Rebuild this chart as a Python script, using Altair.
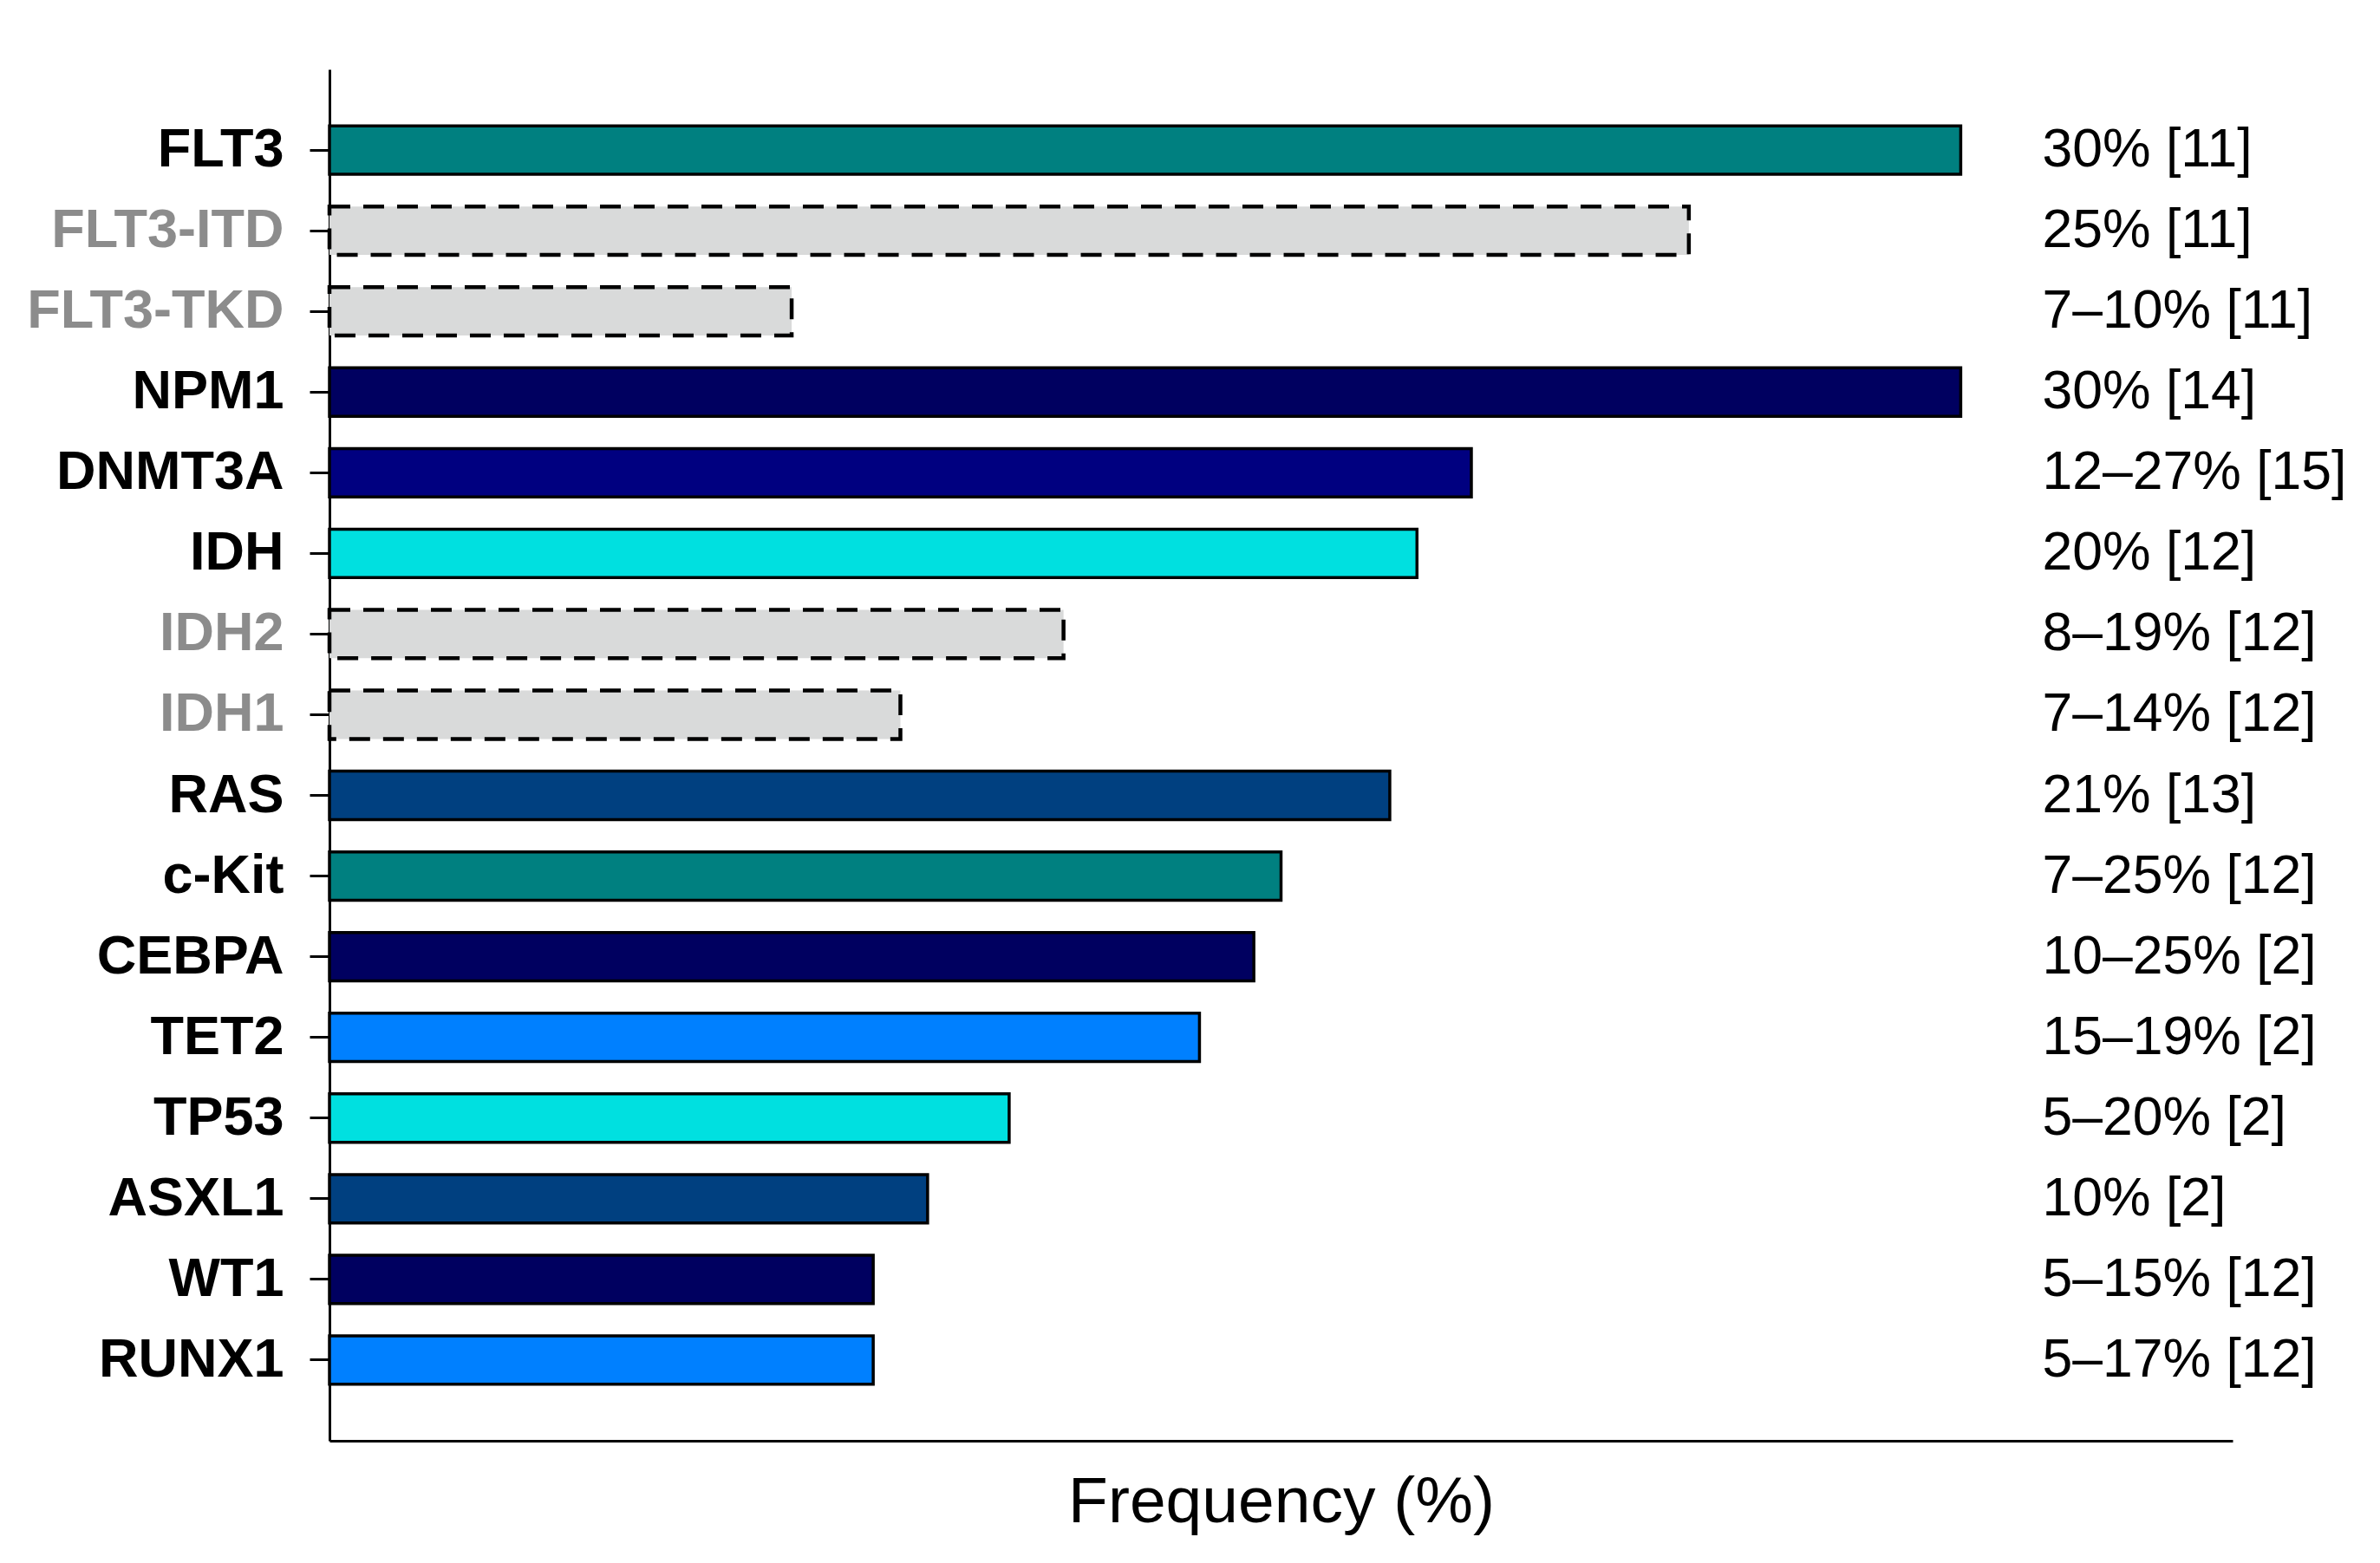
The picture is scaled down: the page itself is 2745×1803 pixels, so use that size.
import altair as alt
import pandas as pd

genes = ["FLT3", "FLT3-ITD", "FLT3-TKD", "NPM1", "DNMT3A", "IDH", "IDH2", "IDH1",
         "RAS", "c-Kit", "CEBPA", "TET2", "TP53", "ASXL1", "WT1", "RUNX1"]
values = [30, 25, 8.5, 30, 21, 20, 13.5, 10.5, 19.5, 17.5, 17, 16, 12.5, 11, 10, 10]
labels = ["30% [11]", "25% [11]", "7\u201310% [11]", "30% [14]", "12\u201327% [15]",
          "20% [12]", "8\u201319% [12]", "7\u201314% [12]", "21% [13]", "7\u201325% [12]",
          "10\u201325% [2]", "15\u201319% [2]", "5\u201320% [2]", "10% [2]",
          "5\u201315% [12]", "5\u201317% [12]"]
colors = ["#008080", "#d9dada", "#d9dada", "#000060", "#000080", "#00e0e0", "#d9dada",
          "#d9dada", "#004080", "#008080", "#000060", "#0080ff", "#00e0e0", "#004080",
          "#000060", "#0080ff"]
subtypes = ["FLT3-ITD", "FLT3-TKD", "IDH2", "IDH1"]

df = pd.DataFrame({"gene": genes, "value": values, "label": labels, "color": colors})
df["sub"] = df["gene"].isin(subtypes)

FONT = "Liberation Sans"

gray_test = "indexof(" + str(subtypes).replace('"', "'") + ", datum.value) >= 0"

y = alt.Y("gene:N", sort=genes, title=None,
          scale=alt.Scale(paddingInner=0.4, paddingOuter=0.7),
          axis=alt.Axis(labelFont=FONT, labelFontSize=63, labelFontWeight="bold",
                        labelLimit=0,
                        labelColor={"condition": {"test": gray_test, "value": "#8c8c8c"},
                                    "value": "black"},
                        tickSize=23, tickWidth=3, tickColor="black",
                        labelPadding=30, domainWidth=3, domainColor="black", grid=False))
x = alt.X("value:Q", title="Frequency (%)",
          scale=alt.Scale(domain=[0, 35], nice=False),
          axis=alt.Axis(labels=False, ticks=False, grid=False, domainWidth=3,
                        domainColor="black", titleFont=FONT, titleFontSize=75,
                        titleFontWeight="normal", titleColor="black", titlePadding=34))

base = alt.Chart(df)

solid = base.transform_filter("!datum.sub").mark_bar(
    stroke="black", strokeWidth=3.5
).encode(x=x, y=y, fill=alt.Fill("color:N", scale=None))

dashed = base.transform_filter("datum.sub").mark_bar(
    stroke="black", strokeWidth=4.5, strokeDash=[24, 15]
).encode(x=x, y=y, fill=alt.Fill("color:N", scale=None))

text = base.mark_text(align="left", baseline="middle", font=FONT, fontSize=62.5,
                      color="black").encode(
    x=alt.datum(31.5), y=y, text="label:N")

chart = alt.layer(solid, dashed, text).properties(
    width=2195, height=1582,
    background="white",
    autosize=alt.AutoSizeParams(type="none"),
    padding={"left": 372, "top": 72, "right": 160, "bottom": 130},
).configure_view(stroke=None)

chart.save("out.html", embed_options={"renderer": "svg", "actions": False})
